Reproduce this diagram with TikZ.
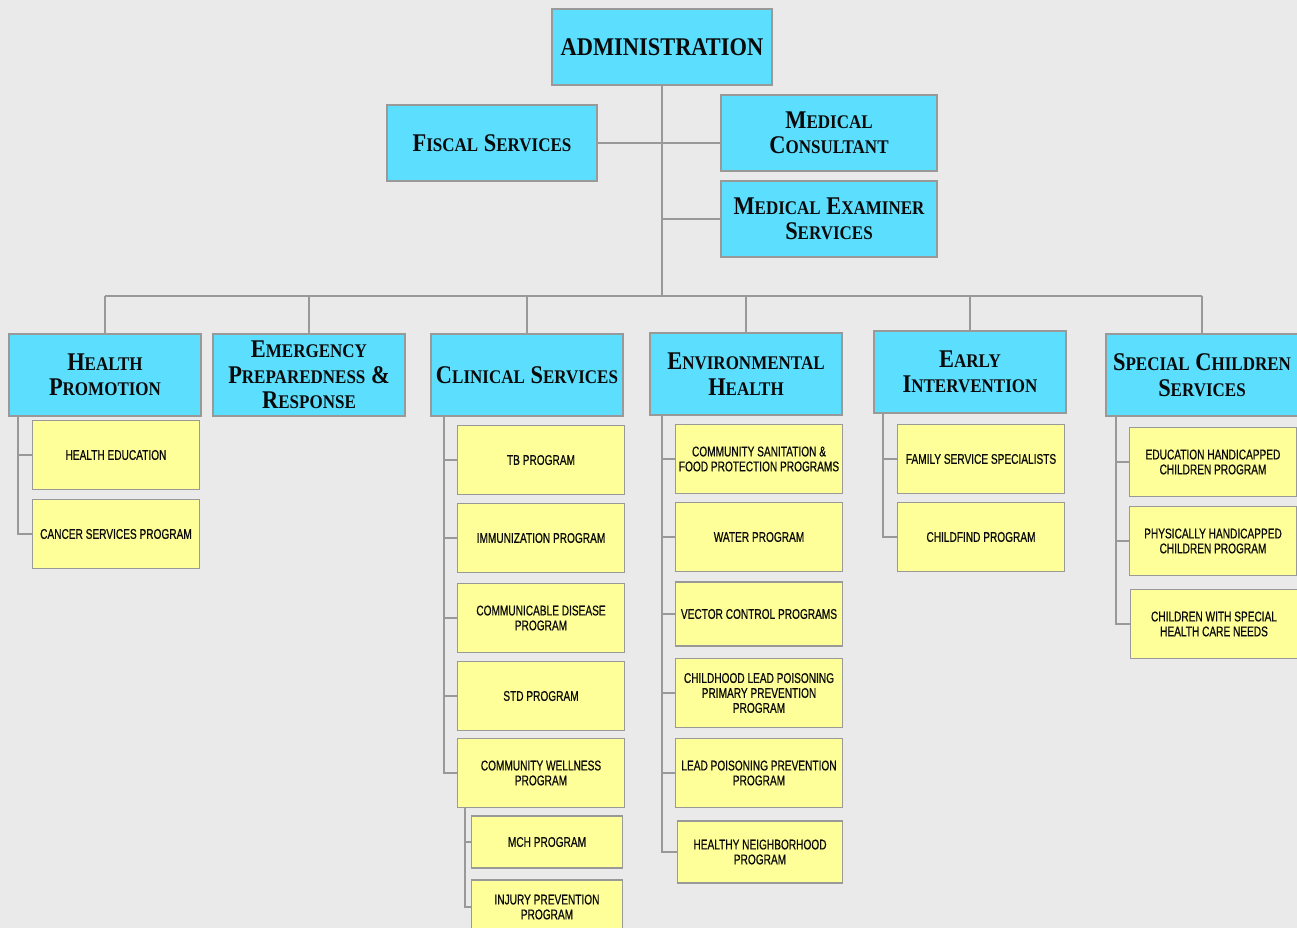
\documentclass[tikz,border=0pt]{standalone}
\usepackage{fontspec}
\setmainfont{Liberation Serif}
\newfontfamily\headfont[FakeStretch=0.88]{Liberation Serif}
\newfontfamily\narrowfont[FakeStretch=0.72,FakeBold=0.6]{Liberation Sans}
\usetikzlibrary{positioning,calc}
\definecolor{bgcol}{HTML}{EAEAEA}
\definecolor{deptblue}{HTML}{5CDEFF}
\definecolor{progyellow}{HTML}{FFFF99}
\definecolor{linecol}{HTML}{999999}
\definecolor{txtcol}{HTML}{0A0A0A}
\newcommand\lc[1]{{\fontsize{11}{15}\selectfont #1}}

\tikzset{
  dept/.style={draw=linecol,fill=deptblue,line width=0.8pt,inner sep=0pt,align=center,
    minimum width=3.84cm,minimum height=1.64cm,text=txtcol,
    font=\headfont\bfseries\fontsize{14.5}{14.5}\selectfont},
  prog/.style={draw=linecol,fill=progyellow,line width=0.8pt,inner sep=0pt,align=center,
    minimum width=3.34cm,minimum height=1.38cm,text=txtcol,
    font=\narrowfont\fontsize{8}{8.5}\selectfont},
  conn/.style={draw=linecol,line width=1.1pt}
}

\begin{document}
\begin{tikzpicture}[x=0.02cm,y=-0.02cm]
  \clip (0,0) rectangle (1297,928);
  \fill[bgcol] (0,0) rectangle (1297,928);

  % top of the chart
  \node[dept,minimum width=4.4cm,minimum height=1.52cm] (admin) at (662,47) {ADMINISTRATION};
  \node[dept,minimum width=4.2cm,minimum height=1.52cm] (fiscal) at (492,143) {F\lc{ISCAL} S\lc{ERVICES}};
  \node[dept,minimum width=4.32cm,minimum height=1.52cm] (consult) at (829,133) {M\lc{EDICAL}\\C\lc{ONSULTANT}};
  \node[dept,minimum width=4.32cm,minimum height=1.52cm] (exam) at (829,219) {M\lc{EDICAL} E\lc{XAMINER}\\S\lc{ERVICES}};
  \coordinate (bus) at (662,296);

  % divisions
  \node[dept] (hp) at (105,375) {H\lc{EALTH}\\P\lc{ROMOTION}};
  \node[dept] (ep) at (309,375) {E\lc{MERGENCY}\\P\lc{REPAREDNESS} \&\\R\lc{ESPONSE}};
  \node[dept] (cs) at (527,375) {C\lc{LINICAL} S\lc{ERVICES}};
  \node[dept] (eh) at (746,374) {E\lc{NVIRONMENTAL}\\H\lc{EALTH}};
  \node[dept] (ei) at (970,372) {E\lc{ARLY}\\I\lc{NTERVENTION}};
  \node[dept] (sc) at (1202,375) {S\lc{PECIAL} C\lc{HILDREN}\\S\lc{ERVICES}};

  % programs
  \node[prog] (he) at (116,455) {HEALTH EDUCATION};
  \node[prog] (csp) at (116,534) {CANCER SERVICES PROGRAM};

  \node[prog] (tb) at (541,460) {TB PROGRAM};
  \node[prog] (imm) at (541,538) {IMMUNIZATION PROGRAM};
  \node[prog] (cd) at (541,618) {COMMUNICABLE DISEASE\\PROGRAM};
  \node[prog] (std) at (541,696) {STD PROGRAM};
  \node[prog] (cw) at (541,773) {COMMUNITY WELLNESS\\PROGRAM};
  \node[prog,minimum width=3.02cm,minimum height=1.04cm] (mch) at (547,842) {MCH PROGRAM};
  \node[prog,minimum width=3.02cm,minimum height=1.08cm] (inj) at (547,907) {INJURY PREVENTION\\PROGRAM};

  \node[prog] (san) at (759,459) {COMMUNITY SANITATION \&\\FOOD PROTECTION PROGRAMS};
  \node[prog] (water) at (759,537) {WATER PROGRAM};
  \node[prog,minimum height=1.28cm] (vec) at (759,614) {VECTOR CONTROL PROGRAMS};
  \node[prog] (clp) at (759,693) {CHILDHOOD LEAD POISONING\\PRIMARY PREVENTION\\PROGRAM};
  \node[prog] (lpp) at (759,773) {LEAD POISONING PREVENTION\\PROGRAM};
  \node[prog,minimum width=3.3cm,minimum height=1.24cm] (hn) at (760,852) {HEALTHY NEIGHBORHOOD\\PROGRAM};

  \node[prog] (fss) at (981,459) {FAMILY SERVICE SPECIALISTS};
  \node[prog] (cf) at (981,537) {CHILDFIND PROGRAM};

  \node[prog] (ehc) at (1213,462) {EDUCATION HANDICAPPED\\CHILDREN PROGRAM};
  \node[prog] (phc) at (1213,541) {PHYSICALLY HANDICAPPED\\CHILDREN PROGRAM};
  \node[prog] (cwsh) at (1214,624) {CHILDREN WITH SPECIAL\\HEALTH CARE NEEDS};

  % connectors
  \draw[conn] (admin.south) -- (bus);
  \draw[conn] (fiscal.east) -- (fiscal.east -| consult.west);
  \draw[conn] (admin.south |- exam.west) -- (exam.west);
  \draw[conn] (hp.north |- bus) -- (sc.north |- bus);
  \foreach \d in {hp,ep,cs,eh,ei,sc}
    \draw[conn] (\d.north) -- (\d.north |- bus);

  \foreach \c in {he,csp}
    \draw[conn] ($(hp.south west)+(10,0)$) |- (\c.west);
  \foreach \c in {tb,imm,cd,std,cw}
    \draw[conn] ($(cs.south west)+(14,0)$) |- (\c.west);
  \foreach \c in {mch,inj}
    \draw[conn] ($(cw.south west)+(8,0)$) |- (\c.west);
  \foreach \c in {san,water,vec,clp,lpp,hn}
    \draw[conn] ($(eh.south west)+(13,0)$) |- (\c.west);
  \foreach \c in {fss,cf}
    \draw[conn] ($(ei.south west)+(10,0)$) |- (\c.west);
  \foreach \c in {ehc,phc,cwsh}
    \draw[conn] ($(sc.south west)+(11,0)$) |- (\c.west);
\end{tikzpicture}
\end{document}
